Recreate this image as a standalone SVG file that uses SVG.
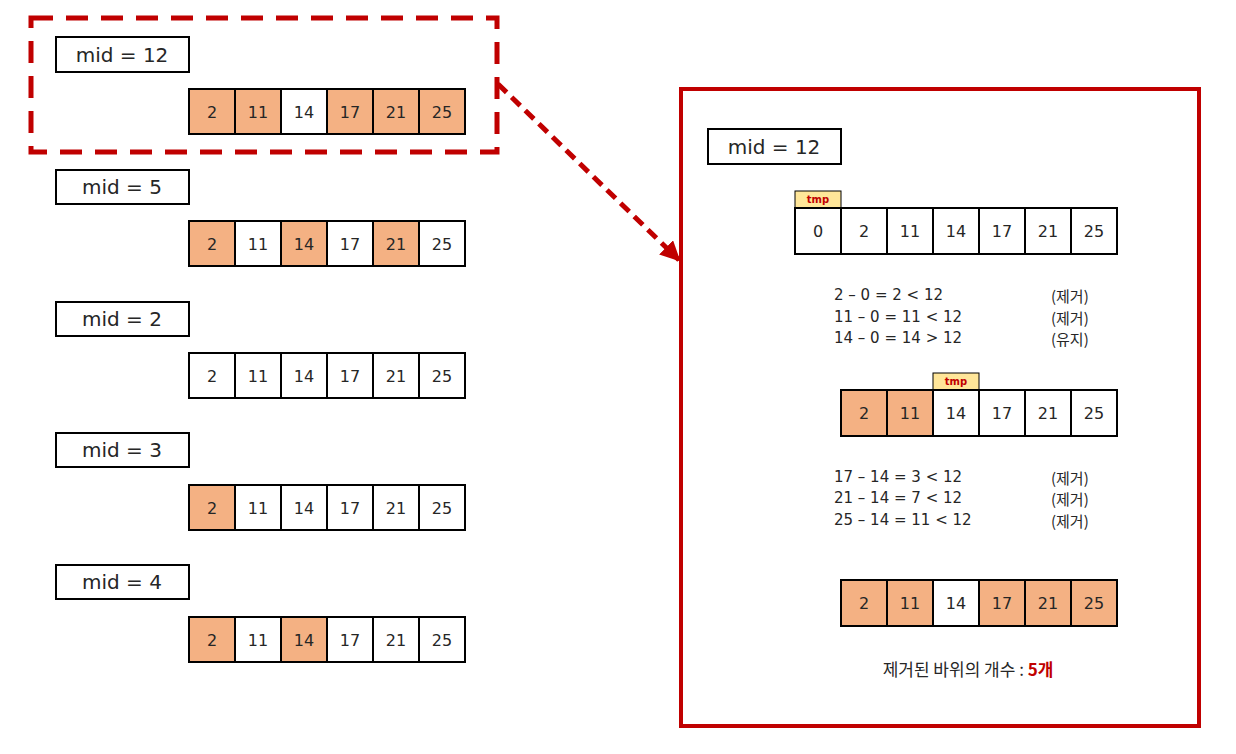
<svg xmlns="http://www.w3.org/2000/svg" width="1236" height="754" viewBox="0 0 1236 754">
<defs>
<style>
text{font-family:"DejaVu Sans","Noto Sans CJK KR",sans-serif;fill:#262626}
.c{fill:#fff;stroke:#000;stroke-width:2}
.o{fill:#F4B183;stroke:#000;stroke-width:2}
.ct{font-size:16px;text-anchor:middle;dominant-baseline:central}
.mb{fill:#fff;stroke:#000;stroke-width:2}
.mt{font-size:20px;text-anchor:middle;dominant-baseline:central}
.tmp{fill:#FFE699;stroke:#000;stroke-width:1}
.tt{font-size:10px;font-weight:bold;fill:#C00000;text-anchor:middle;dominant-baseline:central}
.eq{font-size:15px;dominant-baseline:central}
.ko{font-family:"Noto Sans CJK KR",sans-serif;font-size:15px;dominant-baseline:central}
</style>
<marker id="ah" viewBox="0 0 10 10" refX="9" refY="5" markerWidth="4" markerHeight="4" orient="auto" markerUnits="strokeWidth">
<path d="M0,0L10,5L0,10z" fill="#C00000"/>
</marker>
</defs>
<rect width="1236" height="754" fill="#fff"/>

<g id="connectors">
<line x1="498" y1="84" x2="679" y2="260" stroke="#C00000" stroke-width="5" stroke-dasharray="12,7" marker-end="url(#ah)"/>
</g>

<g id="highlight">
<rect x="31" y="18" width="466" height="134" fill="none" stroke="#C00000" stroke-width="5" stroke-dasharray="22,13"/>
</g>

<g id="row1">
<rect class="mb" x="56" y="37" width="133" height="35"/><text class="mt" x="122" y="55">mid = 12</text>
<rect class="o" x="189" y="89" width="46" height="45"/><text class="ct" x="212" y="112">2</text>
<rect class="o" x="235" y="89" width="46" height="45"/><text class="ct" x="258" y="112">11</text>
<rect class="c" x="281" y="89" width="46" height="45"/><text class="ct" x="304" y="112">14</text>
<rect class="o" x="327" y="89" width="46" height="45"/><text class="ct" x="350" y="112">17</text>
<rect class="o" x="373" y="89" width="46" height="45"/><text class="ct" x="396" y="112">21</text>
<rect class="o" x="419" y="89" width="46" height="45"/><text class="ct" x="442" y="112">25</text>
</g>

<g id="row2">
<rect class="mb" x="56" y="170" width="133" height="34"/><text class="mt" x="122" y="187">mid = 5</text>
<rect class="o" x="189" y="221" width="46" height="45"/><text class="ct" x="212" y="244">2</text>
<rect class="c" x="235" y="221" width="46" height="45"/><text class="ct" x="258" y="244">11</text>
<rect class="o" x="281" y="221" width="46" height="45"/><text class="ct" x="304" y="244">14</text>
<rect class="c" x="327" y="221" width="46" height="45"/><text class="ct" x="350" y="244">17</text>
<rect class="o" x="373" y="221" width="46" height="45"/><text class="ct" x="396" y="244">21</text>
<rect class="c" x="419" y="221" width="46" height="45"/><text class="ct" x="442" y="244">25</text>
</g>

<g id="row3">
<rect class="mb" x="56" y="302" width="133" height="34"/><text class="mt" x="122" y="319">mid = 2</text>
<rect class="c" x="189" y="353" width="46" height="45"/><text class="ct" x="212" y="376">2</text>
<rect class="c" x="235" y="353" width="46" height="45"/><text class="ct" x="258" y="376">11</text>
<rect class="c" x="281" y="353" width="46" height="45"/><text class="ct" x="304" y="376">14</text>
<rect class="c" x="327" y="353" width="46" height="45"/><text class="ct" x="350" y="376">17</text>
<rect class="c" x="373" y="353" width="46" height="45"/><text class="ct" x="396" y="376">21</text>
<rect class="c" x="419" y="353" width="46" height="45"/><text class="ct" x="442" y="376">25</text>
</g>

<g id="row4">
<rect class="mb" x="56" y="433" width="133" height="34"/><text class="mt" x="122" y="450">mid = 3</text>
<rect class="o" x="189" y="485" width="46" height="45"/><text class="ct" x="212" y="508">2</text>
<rect class="c" x="235" y="485" width="46" height="45"/><text class="ct" x="258" y="508">11</text>
<rect class="c" x="281" y="485" width="46" height="45"/><text class="ct" x="304" y="508">14</text>
<rect class="c" x="327" y="485" width="46" height="45"/><text class="ct" x="350" y="508">17</text>
<rect class="c" x="373" y="485" width="46" height="45"/><text class="ct" x="396" y="508">21</text>
<rect class="c" x="419" y="485" width="46" height="45"/><text class="ct" x="442" y="508">25</text>
</g>

<g id="row5">
<rect class="mb" x="56" y="565" width="133" height="34"/><text class="mt" x="122" y="582">mid = 4</text>
<rect class="o" x="189" y="617" width="46" height="45"/><text class="ct" x="212" y="640">2</text>
<rect class="c" x="235" y="617" width="46" height="45"/><text class="ct" x="258" y="640">11</text>
<rect class="o" x="281" y="617" width="46" height="45"/><text class="ct" x="304" y="640">14</text>
<rect class="c" x="327" y="617" width="46" height="45"/><text class="ct" x="350" y="640">17</text>
<rect class="c" x="373" y="617" width="46" height="45"/><text class="ct" x="396" y="640">21</text>
<rect class="c" x="419" y="617" width="46" height="45"/><text class="ct" x="442" y="640">25</text>
</g>

<g id="detail">
<rect x="681" y="89" width="518" height="637" fill="none" stroke="#C00000" stroke-width="4"/>
<rect class="mb" x="708" y="129" width="133" height="35"/><text class="mt" x="774" y="147">mid = 12</text>

<rect class="tmp" x="795" y="191" width="46" height="17"/><text class="tt" x="818" y="199">tmp</text>
<rect class="c" x="795" y="208" width="46" height="46"/><text class="ct" x="818" y="231">0</text>
<rect class="c" x="841" y="208" width="46" height="46"/><text class="ct" x="864" y="231">2</text>
<rect class="c" x="887" y="208" width="46" height="46"/><text class="ct" x="910" y="231">11</text>
<rect class="c" x="933" y="208" width="46" height="46"/><text class="ct" x="956" y="231">14</text>
<rect class="c" x="979" y="208" width="46" height="46"/><text class="ct" x="1002" y="231">17</text>
<rect class="c" x="1025" y="208" width="46" height="46"/><text class="ct" x="1048" y="231">21</text>
<rect class="c" x="1071" y="208" width="46" height="46"/><text class="ct" x="1094" y="231">25</text>

<text class="eq" x="834" y="295">2 – 0 = 2 &lt; 12</text><text class="ko" x="1051" y="295">(제거)</text>
<text class="eq" x="834" y="317">11 – 0 = 11 &lt; 12</text><text class="ko" x="1051" y="317">(제거)</text>
<text class="eq" x="834" y="338">14 – 0 = 14 &gt; 12</text><text class="ko" x="1051" y="338">(유지)</text>

<rect class="tmp" x="933" y="373" width="46" height="17"/><text class="tt" x="956" y="381">tmp</text>
<rect class="o" x="841" y="390" width="46" height="46"/><text class="ct" x="864" y="413">2</text>
<rect class="o" x="887" y="390" width="46" height="46"/><text class="ct" x="910" y="413">11</text>
<rect class="c" x="933" y="390" width="46" height="46"/><text class="ct" x="956" y="413">14</text>
<rect class="c" x="979" y="390" width="46" height="46"/><text class="ct" x="1002" y="413">17</text>
<rect class="c" x="1025" y="390" width="46" height="46"/><text class="ct" x="1048" y="413">21</text>
<rect class="c" x="1071" y="390" width="46" height="46"/><text class="ct" x="1094" y="413">25</text>

<text class="eq" x="834" y="477">17 – 14 = 3 &lt; 12</text><text class="ko" x="1051" y="477">(제거)</text>
<text class="eq" x="834" y="498">21 – 14 = 7 &lt; 12</text><text class="ko" x="1051" y="498">(제거)</text>
<text class="eq" x="834" y="520">25 – 14 = 11 &lt; 12</text><text class="ko" x="1051" y="520">(제거)</text>

<rect class="o" x="841" y="580" width="46" height="46"/><text class="ct" x="864" y="603">2</text>
<rect class="o" x="887" y="580" width="46" height="46"/><text class="ct" x="910" y="603">11</text>
<rect class="c" x="933" y="580" width="46" height="46"/><text class="ct" x="956" y="603">14</text>
<rect class="o" x="979" y="580" width="46" height="46"/><text class="ct" x="1002" y="603">17</text>
<rect class="o" x="1025" y="580" width="46" height="46"/><text class="ct" x="1048" y="603">21</text>
<rect class="o" x="1071" y="580" width="46" height="46"/><text class="ct" x="1094" y="603">25</text>

<text x="968" y="668" text-anchor="middle" style="font-family:'Noto Sans CJK KR',sans-serif;font-size:17px;dominant-baseline:central">제거된 바위의 개수 : <tspan font-weight="bold" style="fill:#C00000">5개</tspan></text>
</g>
</svg>
